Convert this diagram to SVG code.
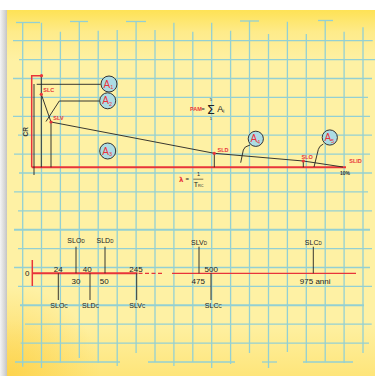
<svg xmlns="http://www.w3.org/2000/svg" width="375" height="376" viewBox="0 0 375 376">
<defs>
<linearGradient id="paper" x1="0" y1="0" x2="0" y2="1" gradientUnits="objectBoundingBox">
<stop offset="0" stop-color="#fee255"/>
<stop offset="0.06" stop-color="#feeb8a"/>
<stop offset="0.14" stop-color="#fef1a4"/>
<stop offset="0.85" stop-color="#fef1a4"/>
<stop offset="1" stop-color="#fee57a"/>
</linearGradient>
<radialGradient id="corner" cx="10" cy="376" r="90" gradientUnits="userSpaceOnUse">
<stop offset="0" stop-color="#fdd24a" stop-opacity="0.9"/>
<stop offset="1" stop-color="#fdd24a" stop-opacity="0"/>
</radialGradient>
<linearGradient id="shadow" x1="0" y1="0" x2="1" y2="0">
<stop offset="0" stop-color="#f4f4f4"/>
<stop offset="0.7" stop-color="#d4d4d4"/>
<stop offset="1" stop-color="#c4c4c4"/>
</linearGradient>
<style>
.g{stroke:#93d0d3;stroke-width:1.3;fill:none}
.gt{stroke:#93d0d3;stroke-width:2;fill:none}
.k{stroke:#222;stroke-width:0.9;fill:none}
.r{stroke:#e8343a;fill:none}
.dot{fill:#e8343a}
.circ{fill:#acdce4;stroke:#333;stroke-width:1}
.a{font-family:"Liberation Sans",Arial,sans-serif;font-size:10px;fill:#e8343a}
.rl{font-family:"Liberation Sans",Arial,sans-serif;font-size:5.5px;font-weight:bold;fill:#e8343a}
.n{font-family:"Liberation Sans",Arial,sans-serif;font-size:8px;fill:#222;text-anchor:middle}
.lb{font-family:"Liberation Sans",Arial,sans-serif;font-size:7px;fill:#222;text-anchor:middle}
</style>
</defs>

<!-- paper -->
<rect x="0" y="0" width="375" height="376" fill="#ffffff"/>
<rect x="0" y="10" width="7" height="366" fill="url(#shadow)"/>
<rect x="7" y="10" width="368" height="366" fill="url(#paper)"/>
<rect x="7" y="10" width="368" height="366" fill="url(#corner)"/>

<!-- grid -->
<g id="grid">
<line class="g" x1="22.7" y1="22.7" x2="22.7" y2="366.7"/>
<line class="g" x1="41.5" y1="22.7" x2="41.5" y2="368"/>
<line class="g" x1="60.4" y1="31.7" x2="60.4" y2="362.7"/>
<line class="g" x1="79.3" y1="21.7" x2="79.3" y2="358"/>
<line class="g" x1="98.2" y1="30.7" x2="98.2" y2="362.7"/>
<line class="g" x1="117.2" y1="30" x2="117.2" y2="366"/>
<line class="g" x1="136.1" y1="21.7" x2="136.1" y2="353"/>
<line class="g" x1="155" y1="30" x2="155" y2="362"/>
<line class="g" x1="173.9" y1="22.7" x2="173.9" y2="366"/>
<line class="g" x1="192.8" y1="31.7" x2="192.8" y2="362"/>
<line class="g" x1="211.7" y1="22.7" x2="211.7" y2="368"/>
<line class="g" x1="230.6" y1="30.7" x2="230.6" y2="364"/>
<line class="g" x1="249.5" y1="20.7" x2="249.5" y2="353"/>
<line class="g" x1="268.5" y1="34" x2="268.5" y2="368"/>
<line class="g" x1="287.4" y1="21.7" x2="287.4" y2="352"/>
<line class="g" x1="306.3" y1="34" x2="306.3" y2="362.7"/>
<line class="g" x1="325.2" y1="20" x2="325.2" y2="361.7"/>
<line class="g" x1="344.1" y1="31.7" x2="344.1" y2="363"/>
<line class="g" x1="363" y1="27.3" x2="363" y2="353"/>
<line class="g" x1="16" y1="22.5" x2="40" y2="22.5"/>
<line class="g" x1="70" y1="21.5" x2="88" y2="21.5"/>
<line class="g" x1="126" y1="21.5" x2="146" y2="21.5"/>
<line class="g" x1="240" y1="21" x2="259" y2="21"/>
<line class="g" x1="318" y1="20.5" x2="333" y2="20.5"/>
<line class="g" x1="13" y1="40.7" x2="372.7" y2="40.7"/>
<line class="g" x1="19" y1="59.6" x2="375" y2="59.6"/>
<line class="g" x1="13" y1="78.5" x2="372" y2="78.5"/>
<line class="g" x1="20" y1="97.4" x2="368" y2="97.4"/>
<line class="g" x1="13" y1="116.3" x2="370" y2="116.3"/>
<line class="g" x1="18" y1="135.2" x2="372" y2="135.2"/>
<line class="g" x1="14" y1="154.1" x2="370" y2="154.1"/>
<line class="g" x1="19" y1="173" x2="372" y2="173"/>
<line class="g" x1="14" y1="191.9" x2="368" y2="191.9"/>
<line class="g" x1="18" y1="210.8" x2="372" y2="210.8"/>
<line class="gt" x1="14" y1="229.7" x2="370" y2="229.7"/>
<line class="g" x1="18" y1="248.6" x2="372" y2="248.6"/>
<line class="g" x1="14" y1="267.5" x2="370" y2="267.5"/>
<line class="g" x1="18" y1="286.4" x2="372" y2="286.4"/>
<line class="gt" x1="20" y1="305.3" x2="364" y2="305.3"/>
<line class="g" x1="25" y1="324.2" x2="371.7" y2="324.2"/>
<line class="g" x1="20.7" y1="343.1" x2="369" y2="343.1"/>
<line class="g" x1="15" y1="362" x2="120" y2="362"/>
<line class="g" x1="148" y1="362" x2="235" y2="362"/>
<line class="g" x1="262" y1="362" x2="277" y2="362"/>
<line class="g" x1="303" y1="362" x2="353" y2="362"/>
</g>

<!-- connectors / chart lines -->
<g id="connectors">
<polyline class="r" stroke-width="1.5" points="41.5,75.7 31.7,75.7 31.7,167.3"/>
<line class="r" stroke-width="2" x1="31.7" y1="167.3" x2="346" y2="167.3"/>
<line class="k" x1="34" y1="84" x2="34" y2="175"/>
<line class="k" x1="41.3" y1="75.7" x2="41.3" y2="167.3"/>
<line class="k" x1="36.7" y1="84.3" x2="100.7" y2="84.3"/>
<polyline class="k" points="99.7,101 59.3,101 46,121.5"/>
<line class="k" x1="41.3" y1="94.3" x2="51" y2="122"/>
<line class="k" x1="51" y1="122" x2="51" y2="167.3"/>
<polyline class="k" points="51,122 214.3,153.3 303.3,161 343,167"/>
<line class="k" x1="214.3" y1="153.3" x2="214.3" y2="167.3"/>
<line class="k" x1="303.3" y1="161" x2="303.3" y2="167.3"/>
<path class="k" d="M250,145 Q244,146.5 243.3,150 L240.7,162.7"/>
<path class="k" d="M323.3,144 Q319,146 318.3,149.5 L314,167"/>
<circle class="dot" cx="41.5" cy="75.7" r="1.6"/>
<circle class="dot" cx="41.3" cy="94.3" r="1.6"/>
<circle class="dot" cx="51" cy="122" r="1.6"/>
<circle class="dot" cx="214.3" cy="153.3" r="1.6"/>
<circle class="dot" cx="303.3" cy="161" r="1.6"/>

<!-- timeline -->
<line class="r" stroke-width="2" x1="32.3" y1="273.3" x2="137.5" y2="273.3"/>
<line class="r" stroke-width="1.3" stroke-dasharray="4,2.5" x1="138.5" y1="273.3" x2="163" y2="273.3"/>
<line class="r" stroke-width="1.3" x1="172" y1="273.3" x2="356" y2="273.3"/>
<line class="r" stroke-width="1.5" x1="32.3" y1="260" x2="32.3" y2="286"/>
<line class="k" x1="76" y1="246.7" x2="76" y2="273.3"/>
<line class="k" x1="105" y1="246.7" x2="105" y2="273.3"/>
<line class="k" x1="199" y1="246.7" x2="199" y2="273.3" stroke="#555"/>
<line class="k" x1="313.3" y1="246.7" x2="313.3" y2="273.3"/>
<line class="k" x1="58.3" y1="273.3" x2="58.3" y2="300"/>
<line class="k" x1="90" y1="273.3" x2="90" y2="300"/>
<line class="k" x1="136.7" y1="273.3" x2="136.7" y2="300"/>
<line class="k" x1="211" y1="273.3" x2="211" y2="300"/>
</g>

<!-- A nodes -->
<g id="A1"><circle class="circ" cx="109" cy="84" r="8"/><text class="a" x="103.6" y="87.5">A<tspan font-size="5.5" dy="1.5">1</tspan></text></g>
<g id="A2"><circle class="circ" cx="107.7" cy="100.8" r="8"/><text class="a" x="102.3" y="104.3">A<tspan font-size="5.5" dy="1.5">2</tspan></text></g>
<g id="A3"><circle class="circ" cx="107.7" cy="151" r="8"/><text class="a" x="102.3" y="154.5">A<tspan font-size="5.5" dy="1.5">3</tspan></text></g>
<g id="A4"><circle class="circ" cx="255.8" cy="138.8" r="7.6"/><text class="a" x="250.4" y="142.3">A<tspan font-size="5.5" dy="1.5">4</tspan></text></g>
<g id="A5"><circle class="circ" cx="329.8" cy="137.5" r="7.6"/><text class="a" x="324.4" y="141">A<tspan font-size="5.5" dy="1.5">5</tspan></text></g>

<!-- chart labels -->
<g id="labels-top">
<text class="rl" x="43.3" y="92.3">SLC</text>
<text class="rl" x="53.3" y="120.3">SLV</text>
<text class="rl" x="217.5" y="151.8">SLD</text>
<text class="rl" x="301.5" y="158.6">SLO</text>
<text class="rl" x="349.3" y="163.3">SLID</text>
<text x="340" y="175.3" font-family="Liberation Sans,Arial,sans-serif" font-size="5" font-weight="bold" fill="#333">10%</text>
<text transform="translate(28,131.7) rotate(-90)" text-anchor="middle" font-family="Liberation Sans,Arial,sans-serif" font-size="6.5" font-weight="bold" fill="#333">CR</text>
<text class="rl" x="190" y="110.8">PAM</text>
<text x="201.3" y="111" font-family="Liberation Sans,Arial,sans-serif" font-size="6" fill="#222">=</text>
<text x="210.8" y="113.5" text-anchor="middle" font-family="DejaVu Sans,sans-serif" font-size="13" fill="#222">Σ</text>
<text x="210.8" y="101.3" text-anchor="middle" font-family="Liberation Sans,Arial,sans-serif" font-size="4" fill="#222">5</text>
<text x="210.8" y="120.3" text-anchor="middle" font-family="Liberation Sans,Arial,sans-serif" font-size="4" fill="#222">1</text>
<text x="217.3" y="111.8" font-family="Liberation Sans,Arial,sans-serif" font-size="9" fill="#222">A<tspan font-size="4.5" dy="1.5">i</tspan></text>
<text x="179" y="181.5" font-family="DejaVu Sans,sans-serif" font-size="7" font-weight="bold" fill="#e8343a">λ</text>
<text x="185.5" y="181.3" font-family="Liberation Sans,Arial,sans-serif" font-size="6" fill="#222">=</text>
<text x="198.5" y="176" text-anchor="middle" font-family="Liberation Sans,Arial,sans-serif" font-size="5.5" fill="#222">1</text>
<line x1="193.3" y1="179.2" x2="203.3" y2="179.2" stroke="#222" stroke-width="0.6"/>
<text x="193.8" y="186.6" font-family="Liberation Sans,Arial,sans-serif" font-size="7" fill="#222">T<tspan font-size="3.8" dy="0.8">RC</tspan></text>
</g>

<g id="labels-timeline">
<text class="n" x="27.3" y="276.3">0</text>
<text class="n" x="58.3" y="272">24</text>
<text class="n" x="87.3" y="272">40</text>
<text class="n" x="136" y="272">245</text>
<text class="n" x="211.3" y="272">500</text>
<text class="n" x="76" y="283.8">30</text>
<text class="n" x="104.3" y="283.8">50</text>
<text class="n" x="198.3" y="284">475</text>
<text class="n" x="315.2" y="284">975 anni</text>
<text class="lb" x="76" y="242.5">SLO<tspan font-size="4.5">D</tspan></text>
<text class="lb" x="105" y="242.5">SLD<tspan font-size="4.5">D</tspan></text>
<text class="lb" x="199" y="244.8">SLV<tspan font-size="4.5">D</tspan></text>
<text class="lb" x="313.3" y="244.8">SLC<tspan font-size="4.5">D</tspan></text>
<text class="lb" x="59" y="308">SLO<tspan font-size="4.5">C</tspan></text>
<text class="lb" x="90.5" y="308">SLD<tspan font-size="4.5">C</tspan></text>
<text class="lb" x="137.3" y="308">SLV<tspan font-size="4.5">C</tspan></text>
<text class="lb" x="213.3" y="308">SLC<tspan font-size="4.5">C</tspan></text>
</g>
</svg>
